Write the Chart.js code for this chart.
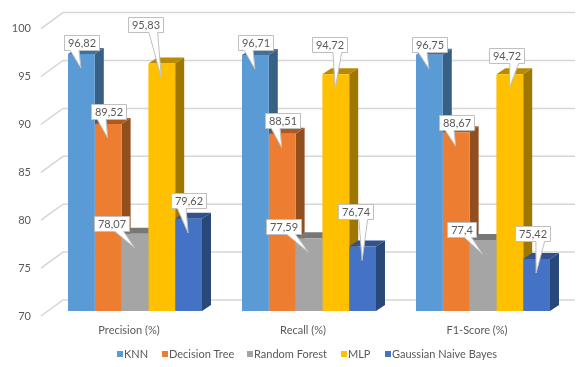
<!DOCTYPE html>
<html>
<head>
<meta charset="utf-8">
<script src="https://cdn.jsdelivr.net/npm/chart.js@4/dist/chart.umd.min.js"></script>
<style>
  html, body { margin: 0; padding: 0; background: #ffffff; }
  #wrap { width: 577px; height: 367px; position: relative; }
</style>
</head>
<body>
<div id="wrap"><canvas id="c" width="577" height="367"></canvas></div>
<script>
// Metrics per classifier (percent)
const metrics = ['Precision (%)', 'Recall (%)', 'F1-Score (%)'];
const knn = [96.82, 96.71, 96.75];
const decisionTree = [89.52, 88.51, 88.67];
const randomForest = [78.07, 77.59, 77.4];
const mlp = [95.83, 94.72, 94.72];
const gaussianNB = [79.62, 76.74, 75.42];
const modelNames = ['KNN', 'Decision Tree', 'Random Forest', 'MLP', 'Gaussian Naive Bayes'];
const yMin = 70, yMax = 100, yStep = 5;

// Office palette for the bar fronts
const colors = ['#5B9BD5', '#ED7D31', '#A5A5A5', '#FFC000', '#4472C4'];

// Callout placement per bar: horizontal shift of the box and gap above the bar top
const calloutShift = [
  [[0, 4], [0, 5], [0, 3]],
  [[0, 5], [0, 6], [0, 2]],
  [[-24, 3], [-26, 4], [-22, 3]],
  [[-16, 32], [-6, 22], [-3, 11]],
  [[0, 11], [-7, 27], [-4, 18]]
];

// Legend swatch x positions
const legendX = [117, 162, 247, 341, 385];

const DEPTH_X = 9, DEPTH_Y = -6;      // bar extrusion
const WALL_X = 22, WALL_Y = -11;      // back wall offset from the bar plane
const TEXT = '#595959';
const FONT = 'Lato, "Open Sans", sans-serif';

function shade(hex, f) {
  const n = parseInt(hex.slice(1), 16);
  const r = Math.round(((n >> 16) & 255) * f);
  const g = Math.round(((n >> 8) & 255) * f);
  const b = Math.round((n & 255) * f);
  return `rgb(${r},${g},${b})`;
}
function fmt(v) { return String(v).replace('.', ','); }

const threeD = {
  id: 'threeD',
  beforeDatasetsDraw(chart) {
    const ctx = chart.ctx;
    const ys = chart.scales.y;
    const area = chart.chartArea;
    ctx.save();
    // back wall gridlines and the slanted side-wall lines
    ctx.strokeStyle = '#d6d6d6';
    ctx.lineWidth = 1.5;
    for (let v = yMin; v <= yMax; v += yStep) {
      const py = ys.getPixelForValue(v);
      const xWall = area.left + 15;
      ctx.beginPath();
      ctx.moveTo(xWall - WALL_X, py + 5);
      ctx.lineTo(xWall, py + WALL_Y);
      ctx.lineTo(chart.width - 2, py + WALL_Y);
      ctx.stroke();
    }
    // extruded top and side faces, left to right within each group
    const metas = chart.getSortedVisibleDatasetMetas();
    const floor = ys.getPixelForValue(yMin);
    for (let i = 0; i < metrics.length; i++) {
      metas.forEach((meta, d) => {
        const el = meta.data[i];
        const l = el.x - el.width / 2, r = el.x + el.width / 2;
        const t = el.y, b = floor;
        const c = colors[d];
        ctx.fillStyle = shade(c, 0.72);
        ctx.beginPath();
        ctx.moveTo(l, t);
        ctx.lineTo(l + DEPTH_X, t + DEPTH_Y);
        ctx.lineTo(r + DEPTH_X, t + DEPTH_Y);
        ctx.lineTo(r, t);
        ctx.closePath();
        ctx.fill();
        ctx.fillStyle = shade(c, 0.62);
        ctx.beginPath();
        ctx.moveTo(r, t);
        ctx.lineTo(r + DEPTH_X, t + DEPTH_Y);
        ctx.lineTo(r + DEPTH_X, b + DEPTH_Y);
        ctx.lineTo(r, b);
        ctx.closePath();
        ctx.fill();
      });
    }
    ctx.restore();
  },
  afterDatasetsDraw(chart) {
    const ctx = chart.ctx;
    ctx.save();
    ctx.font = `11px ${FONT}`;
    ctx.textAlign = 'center';
    ctx.textBaseline = 'middle';
    const metas = chart.getSortedVisibleDatasetMetas();
    metas.forEach((meta, d) => {
      meta.data.forEach((el, i) => {
        const value = chart.data.datasets[d].data[i];
        const label = fmt(value);
        const [shift, gap] = calloutShift[d][i];
        const w = Math.round(ctx.measureText(label).width) + 7;
        const h = 15;
        const cx = el.x + shift;
        const bottom = Math.round(el.y - gap) + 0.5;
        const left = Math.round(cx - w / 2) + 0.5;
        const top = bottom - h;
        const tipX = el.x - 0.5, tipY = el.y + 14;
        const right = tipX > cx;
        const b1 = left + w * (right ? 7 : 2) / 12;
        const b2 = left + w * (right ? 10 : 5) / 12;
        ctx.beginPath();
        ctx.moveTo(left, top);
        ctx.lineTo(left + w, top);
        ctx.lineTo(left + w, bottom);
        ctx.lineTo(b2, bottom);
        ctx.lineTo(tipX, tipY);
        ctx.lineTo(b1, bottom);
        ctx.lineTo(left, bottom);
        ctx.closePath();
        ctx.fillStyle = '#ffffff';
        ctx.fill();
        ctx.strokeStyle = '#bfbfbf';
        ctx.lineWidth = 1;
        ctx.stroke();
        ctx.fillStyle = TEXT;
        ctx.fillText(label, left + w / 2, top + h / 2 + 0.5);
      });
    });
    ctx.restore();
  },
  afterDraw(chart) {
    // legend row
    const ctx = chart.ctx;
    ctx.save();
    ctx.font = `11px ${FONT}`;
    ctx.textBaseline = 'middle';
    ctx.textAlign = 'left';
    const y = 354;
    chart.data.datasets.forEach((ds, d) => {
      const x = legendX[d];
      ctx.fillStyle = colors[d];
      ctx.fillRect(x, y - 3, 6, 6);
      ctx.fillStyle = TEXT;
      ctx.fillText(ds.label, x + 7, y + 0.5);
    });
    ctx.restore();
  }
};

Chart.defaults.font.family = FONT;

const series = [knn, decisionTree, randomForest, mlp, gaussianNB];

new Chart(document.getElementById('c'), {
  type: 'bar',
  data: {
    labels: metrics,
    datasets: series.map((vals, d) => ({
      label: modelNames[d],
      data: vals,
      base: yMin,
      backgroundColor: colors[d],
      borderWidth: 0,
      categoryPercentage: 0.77,
      barPercentage: 1.0
    }))
  },
  options: {
    responsive: false,
    animation: false,
    devicePixelRatio: 1,
    layout: { padding: { top: 16, right: 7, left: 0, bottom: 0 } },
    plugins: { legend: { display: false }, tooltip: { enabled: false } },
    scales: {
      x: {
        grid: { display: false, drawTicks: false },
        border: { display: false },
        ticks: { color: TEXT, font: { size: 11 }, padding: 13, labelOffset: -6 },
        afterFit(s) { s.height = 56; }
      },
      y: {
        min: yMin,
        max: yMax,
        grid: { display: false, drawTicks: false },
        border: { display: false },
        ticks: { stepSize: yStep, color: TEXT, font: { size: 11 }, padding: 17, labelOffset: 5 },
        afterFit(s) { s.width = 48; }
      }
    }
  },
  plugins: [threeD]
});
</script>
</body>
</html>
